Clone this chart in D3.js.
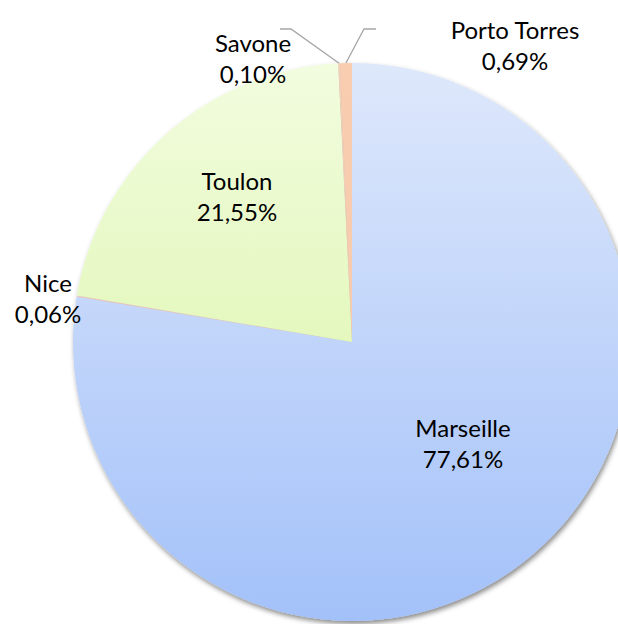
<!DOCTYPE html>
<html>
<head>
<meta charset="utf-8">
<script src="https://cdn.jsdelivr.net/npm/d3@7"></script>
<style>
  body { margin: 0; background: #fff; }
  svg { display: block; }
  text { font-family: Lato, "Open Sans", sans-serif; font-size: 24px; fill: #000; }
</style>
</head>
<body>
<div id="chart"></div>
<script>
var ports = ["Marseille", "Nice", "Toulon", "Savone", "Porto Torres"];
var shares = [77.61, 0.06, 21.55, 0.10, 0.69];
var shareLabels = ["77,61%", "0,06%", "21,55%", "0,10%", "0,69%"];
var fillTop = ["#dee8fb", "#f6c9bd", "#f2fcdf", "#f4cfb8", "#f8cdb0"];
var fillBottom = ["#a3c1f9", "#f2bfb0", "#d6f49c", "#f3c7ab", "#f7c8a8"];

var w = 618, h = 624;
var cx = 352, cy = 342, radius = 279;

var svg = d3.select("#chart").append("svg")
    .attr("width", w)
    .attr("height", h);

var defs = svg.append("defs");

var shadow = defs.append("filter").attr("id", "shadow")
    .attr("x", "-10%").attr("y", "-10%").attr("width", "120%").attr("height", "120%");
shadow.append("feDropShadow")
    .attr("dx", 1.5).attr("dy", 3).attr("stdDeviation", 2.5)
    .attr("flood-color", "#000").attr("flood-opacity", 0.45);

// vertical gradients, in the local coords of the pie group
ports.forEach(function(p, i) {
    var g = defs.append("linearGradient")
        .attr("id", "grad" + i)
        .attr("gradientUnits", "userSpaceOnUse")
        .attr("x1", 0).attr("y1", -radius)
        .attr("x2", 0).attr("y2", radius);
    g.append("stop").attr("offset", "0%").attr("stop-color", fillTop[i]);
    g.append("stop").attr("offset", "100%").attr("stop-color", fillBottom[i]);
});

var data = ports.map(function(p, i) {
    return { port: p, value: shares[i], label: shareLabels[i], idx: i };
});

var pie = d3.pie().sort(null).value(function(d) { return d.value; });
var arc = d3.arc().innerRadius(0).outerRadius(radius);
var arcs = pie(data);

var pieG = svg.append("g")
    .attr("filter", "url(#shadow)");

pieG.selectAll("path")
    .data(arcs)
    .enter().append("path")
        .attr("d", arc)
        .attr("transform", "translate(" + cx + "," + cy + ")")
        .attr("fill", function(d) { return "url(#grad" + d.data.idx + ")"; });

// label positions (center x, first baseline)
var labelPos = {
    "Marseille": [463, 437],
    "Nice": [48, 292],
    "Toulon": [237, 190],
    "Savone": [253, 52],
    "Porto Torres": [515, 39]
};

var labels = svg.selectAll(".lbl")
    .data(data)
    .enter().append("text")
        .attr("class", "lbl")
        .attr("text-anchor", "middle")
        .attr("x", function(d) { return labelPos[d.port][0]; })
        .attr("y", function(d) { return labelPos[d.port][1]; });

labels.append("tspan")
    .attr("x", function(d) { return labelPos[d.port][0]; })
    .text(function(d) { return d.port; });
labels.append("tspan")
    .attr("x", function(d) { return labelPos[d.port][0]; })
    .attr("dy", 31)
    .text(function(d) { return d.label; });

// leader lines for the two small slices at the top
var leaders = {
    "Savone": [[280, 29], [291, 29]],
    "Porto Torres": [[376, 29], [364, 29]]
};
var outer = d3.arc().innerRadius(radius).outerRadius(radius);
arcs.forEach(function(a) {
    var pts = leaders[a.data.port];
    if (!pts) return;
    var c = outer.centroid(a);
    svg.append("path")
        .attr("d", d3.line()(pts.concat([[cx + c[0], cy + c[1]]])))
        .attr("fill", "none")
        .attr("stroke", "#a6a6a6")
        .attr("stroke-width", 1.3);
});
</script>
</body>
</html>
